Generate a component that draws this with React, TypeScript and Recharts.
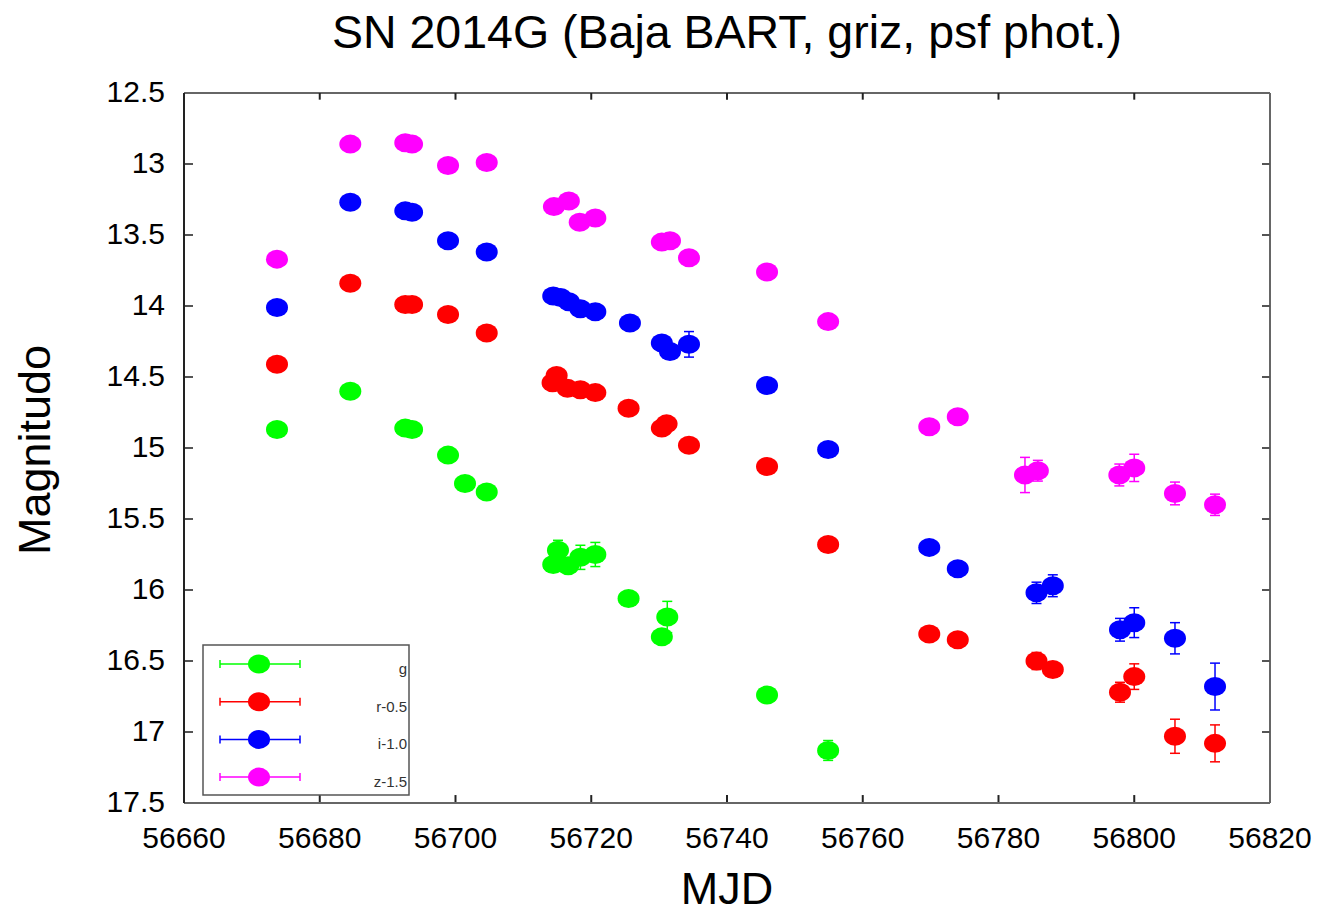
import React from 'react';
import { ScatterChart, Scatter, XAxis, YAxis, ErrorBar, ReferenceLine } from 'recharts';

const FONT = '"Liberation Sans", Arial, Helvetica, sans-serif';

const xTicks = [56660, 56680, 56700, 56720, 56740, 56760, 56780, 56800, 56820];
const yTicks = [12.5, 13, 13.5, 14, 14.5, 15, 15.5, 16, 16.5, 17, 17.5];
const X_MIN = 56660;
const X_MAX = 56820;
const Y_MIN = 12.5;
const Y_MAX = 17.5;

const gMjd = [56673.7, 56684.5, 56692.6, 56693.6, 56698.9, 56701.4, 56704.6, 56714.4, 56715.1, 56716.6, 56718.4, 56720.6, 56725.5, 56730.4, 56731.2, 56745.9, 56754.9];
const gMag = [14.87, 14.6, 14.86, 14.87, 15.05, 15.25, 15.31, 15.82, 15.72, 15.83, 15.77, 15.75, 16.06, 16.33, 16.19, 16.74, 17.13];
const gErr = [0.03, 0.03, 0.03, 0.03, 0.03, 0.03, 0.03, 0.04, 0.07, 0.04, 0.085, 0.085, 0.04, 0.04, 0.11, 0.04, 0.07];

const rMjd = [56673.7, 56684.5, 56692.6, 56693.6, 56698.9, 56704.6, 56714.3, 56714.9, 56716.5, 56718.4, 56720.6, 56725.5, 56730.4, 56731.1, 56734.4, 56745.9, 56754.9, 56769.8, 56774.0, 56785.6, 56788.0, 56797.9, 56800.0, 56806.0, 56811.9];
const rMag = [14.41, 13.84, 13.99, 13.99, 14.06, 14.19, 14.54, 14.49, 14.58, 14.59, 14.61, 14.72, 14.86, 14.83, 14.98, 15.13, 15.68, 16.31, 16.35, 16.5, 16.56, 16.72, 16.61, 17.03, 17.08];
const rErr = [0.03, 0.03, 0.03, 0.03, 0.03, 0.03, 0.03, 0.03, 0.03, 0.03, 0.03, 0.03, 0.03, 0.03, 0.03, 0.03, 0.03, 0.03, 0.03, 0.06, 0.04, 0.07, 0.09, 0.12, 0.13];

const iMjd = [56673.7, 56684.5, 56692.6, 56693.6, 56698.9, 56704.6, 56714.4, 56715.5, 56716.7, 56718.4, 56720.6, 56725.7, 56730.4, 56731.6, 56734.4, 56745.9, 56754.9, 56769.8, 56774.0, 56785.6, 56788.0, 56797.9, 56800.0, 56806.0, 56811.9];
const iMag = [14.01, 13.27, 13.33, 13.34, 13.54, 13.62, 13.93, 13.94, 13.97, 14.02, 14.04, 14.12, 14.26, 14.32, 14.27, 14.56, 15.01, 15.7, 15.85, 16.02, 15.97, 16.28, 16.23, 16.34, 16.68];
const iErr = [0.03, 0.03, 0.03, 0.03, 0.03, 0.03, 0.03, 0.03, 0.03, 0.03, 0.03, 0.03, 0.03, 0.03, 0.09, 0.03, 0.03, 0.04, 0.03, 0.075, 0.077, 0.08, 0.105, 0.11, 0.165];

const zMjd = [56673.7, 56684.5, 56692.6, 56693.6, 56698.9, 56704.6, 56714.5, 56716.7, 56718.3, 56720.6, 56730.4, 56731.6, 56734.4, 56745.9, 56754.9, 56769.8, 56774.0, 56783.9, 56785.8, 56797.8, 56800.0, 56806.0, 56811.9];
const zMag = [13.67, 12.86, 12.85, 12.86, 13.01, 12.99, 13.3, 13.26, 13.41, 13.38, 13.55, 13.54, 13.66, 13.76, 14.11, 14.85, 14.78, 15.19, 15.16, 15.19, 15.14, 15.32, 15.4];
const zErr = [0.03, 0.03, 0.03, 0.03, 0.03, 0.03, 0.03, 0.03, 0.03, 0.03, 0.03, 0.03, 0.03, 0.03, 0.03, 0.03, 0.03, 0.124, 0.073, 0.077, 0.096, 0.08, 0.075];

const build = (m: number[], v: number[], e: number[]) => m.map((x, i) => ({ x, y: v[i], e: e[i] }));

const series = [
  { name: 'g', color: '#00ff00', data: build(gMjd, gMag, gErr) },
  { name: 'r-0.5', color: '#ff0000', data: build(rMjd, rMag, rErr) },
  { name: 'i-1.0', color: '#0000ff', data: build(iMjd, iMag, iErr) },
  { name: 'z-1.5', color: '#ff00ff', data: build(zMjd, zMag, zErr) },
];

// layout
const W = 1335;
const H = 913;
const M_TOP = 93;
const M_RIGHT = 65;
const Y_AXIS_W = 184;
const X_AXIS_H = 110;
const PLOT_LEFT = Y_AXIS_W;
const PLOT_BOTTOM = H - X_AXIS_H;

const fmtY = (v: number) => (Number.isInteger(v) ? String(v) : v.toFixed(1));

const LeftTick = (p: any) => (
  <text x={PLOT_LEFT - 19} y={p.y - 2} textAnchor="end" dominantBaseline="central" fontSize={30} fontFamily={FONT} fill="#000">
    {fmtY(p.payload.value)}
  </text>
);
const BottomTick = (p: any) => (
  <text x={p.x} y={PLOT_BOTTOM + 45} textAnchor="middle" fontSize={30} fontFamily={FONT} fill="#000">
    {p.payload.value}
  </text>
);

const makeShape = (color: string) => (p: any) => (
  <ellipse cx={p.cx} cy={p.cy} rx={11} ry={9.5} fill={color} />
);

// inward tick lengths in data units
const TICK_X_BOTTOM = 0.056;
const TICK_X_TOP = 0.047;
const TICK_Y_LEFT = 1.33;
const TICK_Y_RIGHT = 1.18;

export default function App() {
  return (
    <div style={{ position: 'absolute', left: 0, top: 0, width: W, height: H, background: '#fff' }}>
      <ScatterChart width={W} height={H} margin={{ top: M_TOP, right: M_RIGHT, bottom: 0, left: 0 }}>
        <XAxis
          xAxisId="b" dataKey="x" type="number" domain={[X_MIN, X_MAX]} ticks={xTicks}
          orientation="bottom" height={X_AXIS_H} tickLine={false} allowDataOverflow
          axisLine={{ stroke: '#666', strokeWidth: 2 }} tick={BottomTick} interval={0}
        />
        <YAxis
          yAxisId="l" dataKey="y" type="number" domain={[Y_MIN, Y_MAX]} ticks={yTicks} reversed
          orientation="left" width={Y_AXIS_W} tickLine={false} allowDataOverflow
          axisLine={{ stroke: '#222', strokeWidth: 2 }} tick={LeftTick} interval={0}
        />
        <ReferenceLine xAxisId="b" yAxisId="l" y={Y_MIN} ifOverflow="visible" stroke="#666" strokeWidth={2} />
        <ReferenceLine xAxisId="b" yAxisId="l" x={X_MAX} ifOverflow="visible" stroke="#666" strokeWidth={2} />
        {xTicks.slice(1, -1).map((t) => (
          <ReferenceLine
            key={'xb' + t} xAxisId="b" yAxisId="l" ifOverflow="visible"
            segment={[{ x: t, y: Y_MAX }, { x: t, y: Y_MAX - TICK_X_BOTTOM }]}
            stroke="#222" strokeWidth={2}
          />
        ))}
        {xTicks.slice(1, -1).map((t) => (
          <ReferenceLine
            key={'xt' + t} xAxisId="b" yAxisId="l" ifOverflow="visible"
            segment={[{ x: t, y: Y_MIN }, { x: t, y: Y_MIN + TICK_X_TOP }]}
            stroke="#222" strokeWidth={2}
          />
        ))}
        {yTicks.slice(1, -1).map((t) => (
          <ReferenceLine
            key={'yl' + t} xAxisId="b" yAxisId="l" ifOverflow="visible"
            segment={[{ x: X_MIN, y: t }, { x: X_MIN + TICK_Y_LEFT, y: t }]}
            stroke="#555" strokeWidth={2}
          />
        ))}
        {yTicks.slice(1, -1).map((t) => (
          <ReferenceLine
            key={'yr' + t} xAxisId="b" yAxisId="l" ifOverflow="visible"
            segment={[{ x: X_MAX, y: t }, { x: X_MAX - TICK_Y_RIGHT, y: t }]}
            stroke="#555" strokeWidth={2}
          />
        ))}
        {series.map((s) => (
          <Scatter
            key={s.name}
            name={s.name}
            data={s.data}
            xAxisId="b"
            yAxisId="l"
            fill={s.color}
            shape={makeShape(s.color)}
            isAnimationActive={false}
          >
            <ErrorBar dataKey="e" direction="y" width={5} stroke={s.color} strokeWidth={1.5} />
          </Scatter>
        ))}
      </ScatterChart>

      <svg width={W} height={H} style={{ position: 'absolute', left: 0, top: 0, pointerEvents: 'none' }}>
        <text x={727} y={48} textAnchor="middle" fontSize={46.5} fontFamily={FONT} fill="#000">
          SN 2014G (Baja BART, griz, psf phot.)
        </text>
        <text x={727} y={904} textAnchor="middle" fontSize={45} fontFamily={FONT} fill="#000">
          MJD
        </text>
        <text x={50} y={450} textAnchor="middle" fontSize={45} fontFamily={FONT} fill="#000" transform="rotate(-90 50 450)">
          Magnitudo
        </text>
        <rect x={203} y={645} width={206} height={150} fill="#fff" stroke="#555" strokeWidth={1.5} />
        {series.map((s, i) => {
          const cy = 664 + i * 37.7;
          return (
            <g key={s.name}>
              <line x1={220} x2={300} y1={cy} y2={cy} stroke={s.color} strokeWidth={1.5} />
              <line x1={220} x2={220} y1={cy - 4} y2={cy + 4} stroke={s.color} strokeWidth={1.5} />
              <line x1={300} x2={300} y1={cy - 4} y2={cy + 4} stroke={s.color} strokeWidth={1.5} />
              <ellipse cx={259} cy={cy} rx={11} ry={9.5} fill={s.color} />
              <text x={407} y={cy + 10} textAnchor="end" fontSize={15} fontFamily={FONT} fill="#333">
                {s.name}
              </text>
            </g>
          );
        })}
      </svg>
    </div>
  );
}
